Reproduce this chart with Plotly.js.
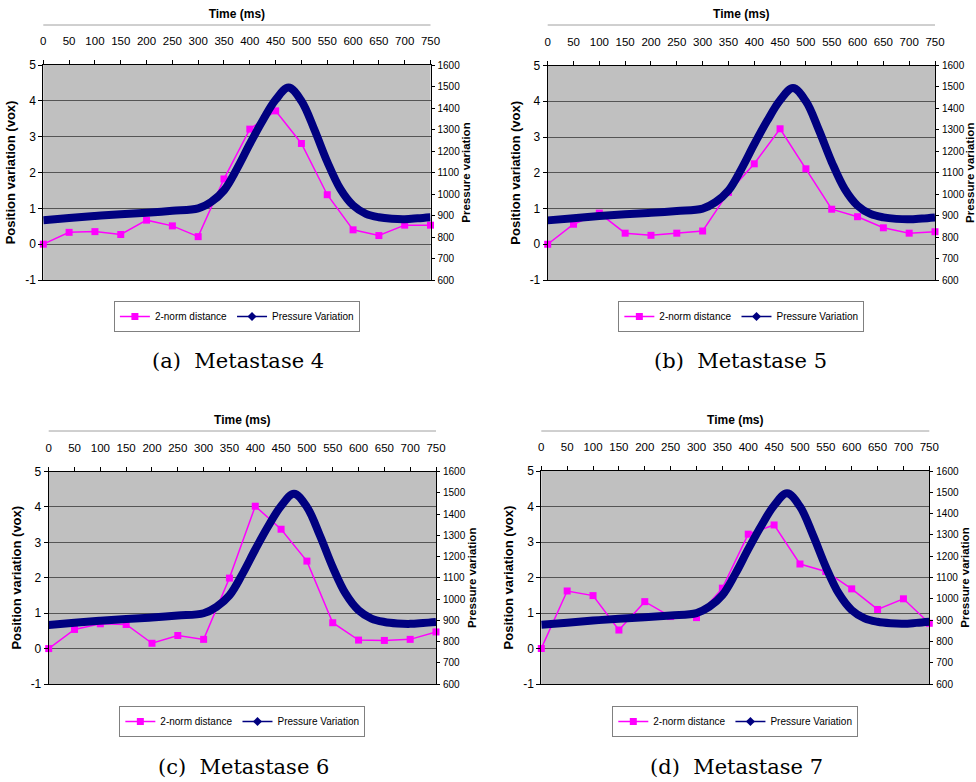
<!DOCTYPE html>
<html>
<head>
<meta charset="utf-8">
<script src="https://cdn.plot.ly/plotly-3.0.1.min.js"></script>
<style>html,body{margin:0;padding:0;background:#fff;}#chart{width:976px;height:782px;}</style>
</head>
<body>
<div id="chart"></div>
<script>
// ---- data ----
const times = [0,50,100,150,200,250,300,350,400,450,500,550,600,650,700,750];
const dist4 = [0.00,0.33,0.35,0.27,0.67,0.51,0.21,1.82,3.21,3.72,2.81,1.38,0.40,0.24,0.53,0.53];
const dist5 = [0.00,0.56,0.87,0.31,0.25,0.31,0.37,1.45,2.25,3.23,2.11,0.98,0.77,0.46,0.31,0.35];
const dist6 = [0.00,0.54,0.70,0.68,0.15,0.37,0.26,1.99,4.02,3.37,2.47,0.73,0.24,0.23,0.26,0.47];
const dist7 = [0.00,1.62,1.49,0.52,1.32,0.90,0.87,1.70,3.22,3.48,2.38,2.17,1.68,1.10,1.40,0.71];
const pressTimes = [0,50,100,150,200,250,300,325,350,375,400,425,450,475,500,525,550,575,600,625,650,675,700,725,750];
const pressure  = [878,888,898,906,913,922,933,963,1017,1117,1233,1342,1438,1495,1433,1300,1150,1025,947,908,892,885,883,887,892];
const captions = ['(a)\u00a0\u00a0Metastase 4','(b)\u00a0\u00a0Metastase 5','(c)\u00a0\u00a0Metastase 6','(d)\u00a0\u00a0Metastase 7'];
const distName = '2-norm distance';
const pressName = 'Pressure Variation';
const xTitle = 'Time (ms)';
const yLeftTitle = 'Position variation (vox)';
const yRightTitle = 'Pressure variation';
const xTicks = [0,50,100,150,200,250,300,350,400,450,500,550,600,650,700,750];
const yLeftTicks = [-1,0,1,2,3,4,5];
const yRightTicks = [600,700,800,900,1000,1100,1200,1300,1400,1500,1600];

// ---- layout geometry (pixels) ----
const W = 976, H = 782;
const panels = [
  {dist: dist4, x0: 43.3, x1: 430.5, y0: 65, y1: 280, titleLine: 25, legY: 316.5, capX: 238, capY: 361},
  {dist: dist5, x0: 547.7, x1: 935, y0: 65.5, y1: 280, titleLine: 25, legY: 316.5, capX: 740, capY: 361},
  {dist: dist6, x0: 48.7, x1: 436, y0: 471.5, y1: 684, titleLine: 431, legY: 721.5, capX: 243, capY: 767},
  {dist: dist7, x0: 541.3, x1: 929.3, y0: 471, y1: 684, titleLine: 431, legY: 721.5, capX: 736, capY: 767}
];

const narrow = 'Liberation Sans Narrow, Arial Narrow, Liberation Sans, Arial, sans-serif';
const bold = 'Liberation Sans, Arial, sans-serif';

const data = [];
const layout = {
  width: W, height: H,
  margin: {l: 0, r: 0, t: 0, b: 0},
  paper_bgcolor: '#ffffff',
  plot_bgcolor: '#c0c0c0',
  font: {family: narrow, size: 12, color: '#000'},
  shapes: [], annotations: []
};

panels.forEach((p, i) => {
  const n = i + 1;
  const xa = n === 1 ? 'x' : 'x' + n;
  const yl = 2 * n - 1, yr = 2 * n;
  const ylName = yl === 1 ? 'y' : 'y' + yl;
  const yrName = 'y' + yr;
  const legName = n === 1 ? 'legend' : 'legend' + n;

  data.push({
    type: 'scatter', mode: 'lines+markers', name: distName,
    x: times, y: p.dist, xaxis: xa, yaxis: ylName, legend: legName,
    line: {color: '#ff00ff', width: 1.5},
    marker: {symbol: 'square', size: 7, color: '#ff00ff'},
    cliponaxis: false, hoverinfo: 'x+y'
  });
  // legend entry for the pressure curve (thin line + diamond, like the original legend)
  data.push({
    type: 'scatter', mode: 'lines+markers', name: pressName,
    x: [null], y: [null], xaxis: xa, yaxis: yrName, legend: legName,
    line: {color: '#000080', width: 1.5},
    marker: {symbol: 'diamond', size: 7, color: '#000080'}
  });
  data.push({
    type: 'scatter', mode: 'lines', name: pressName, showlegend: false,
    x: pressTimes, y: pressure, xaxis: xa, yaxis: yrName,
    line: {color: '#000080', width: 8, shape: 'spline', smoothing: 1},
    cliponaxis: false
  });

  const xdom = [p.x0 / W, p.x1 / W];
  const ydom = [1 - p.y1 / H, 1 - p.y0 / H];

  layout['xaxis' + (n === 1 ? '' : n)] = {
    domain: xdom, anchor: ylName, side: 'top',
    range: [0, 750], tickvals: xTicks, ticktext: xTicks.map(String),
    ticks: 'outside', ticklen: 4, tickcolor: '#000', tickwidth: 1,
    ticklabelstandoff: 10,
    showline: true, linecolor: '#000', linewidth: 1, mirror: true,
    showgrid: false, zeroline: false,
    tickfont: {family: narrow, size: 11.5},
    title: {text: xTitle, font: {family: narrow, size: 12, weight: 'bold'}, standoff: 14}
  };
  layout['yaxis' + (yl === 1 ? '' : yl)] = {
    domain: ydom, anchor: xa, side: 'left',
    range: [-1, 5], tickvals: yLeftTicks, ticktext: yLeftTicks.map(String),
    ticks: 'outside', ticklen: 4, tickcolor: '#000',
    showline: true, linecolor: '#000', linewidth: 1,
    showgrid: true, gridcolor: '#555555', gridwidth: 1, zeroline: false,
    tickfont: {family: narrow, size: 12},
    title: {text: yLeftTitle, font: {family: bold, size: 13, weight: 'bold'}, standoff: 6}
  };
  layout['yaxis' + yr] = {
    domain: ydom, anchor: xa, side: 'right', overlaying: ylName,
    range: [600, 1600], tickvals: yRightTicks, ticktext: yRightTicks.map(String),
    ticks: 'outside', ticklen: 3, tickcolor: '#000',
    ticklabelstandoff: 1,
    showline: true, linecolor: '#000', linewidth: 1,
    showgrid: false, zeroline: false,
    tickfont: {family: narrow, size: 10},
    title: {text: yRightTitle, font: {family: bold, size: 11.5, weight: 'bold'}, standoff: 1}
  };
  layout[legName] = {
    x: (p.x0 + p.x1) / 2 / W, xanchor: 'center',
    y: 1 - p.legY / H, yanchor: 'middle',
    orientation: 'h', bgcolor: '#ffffff', bordercolor: '#808080', borderwidth: 1,
    font: {family: narrow, size: 10, color: '#000'},
    traceorder: 'normal', itemwidth: 30, tracegroupgap: 0
  };
  layout.shapes.push({
    type: 'line', xref: xa + ' domain', yref: 'paper',
    x0: 0, x1: 1, y0: 1 - p.titleLine / H, y1: 1 - p.titleLine / H,
    line: {color: '#a0a0a0', width: 1}
  });
  layout.annotations.push({
    text: captions[i], xref: 'paper', yref: 'paper',
    x: p.capX / W, y: 1 - p.capY / H, xanchor: 'center', yanchor: 'middle',
    showarrow: false, font: {family: 'DejaVu Serif, Liberation Serif, serif', size: 21, color: '#000'}
  });
});

Plotly.newPlot('chart', data, layout, {staticPlot: true});
</script>
</body>
</html>
